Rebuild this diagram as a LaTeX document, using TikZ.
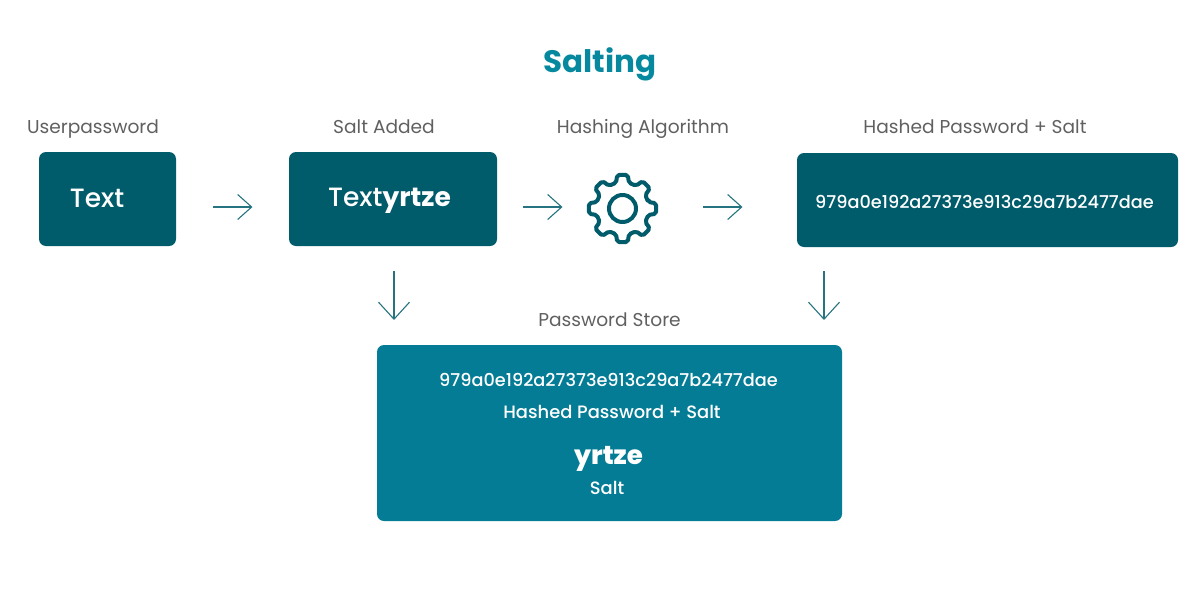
\documentclass[tikz,border=0pt]{standalone}
\usepackage{fontspec}
\setmainfont{Poppins}
\newfontfamily\mediumfont{Poppins Medium}
\newfontfamily\heavyfont{Poppins ExtraBold}
\usetikzlibrary{arrows.meta}
\definecolor{darkbox}{HTML}{005B6A}
\definecolor{storebox}{HTML}{047C95}
\definecolor{titleteal}{HTML}{06899E}
\definecolor{labelgray}{HTML}{606060}
\tikzset{
  box/.style={fill=darkbox,rounded corners=7pt,text=white,inner sep=0pt},
  storage/.style={fill=storebox,rounded corners=7pt,inner sep=0pt},
  caption/.style={text=labelgray,font=\fontsize{18.6pt}{20pt}\selectfont,inner sep=0pt},
  whitetext/.style={text=white,inner sep=0pt},
  hashfont/.style={font=\mediumfont\fontsize{17.7pt}{20pt}\selectfont},
  storefont/.style={font=\mediumfont\fontsize{17.9pt}{20pt}\selectfont},
  flow/.style={draw=darkbox!85,line width=1.1pt,-{Straight Barb[length=14pt,width=25pt,line width=1.1pt]}},
  downflow/.style={draw=darkbox!85,line width=1.1pt,-{Straight Barb[length=17pt,width=31pt,line width=1.1pt]}},
  gearline/.style={draw=darkbox,line width=4pt,line join=round}
}
\begin{document}
\begin{tikzpicture}[x=1pt,y=-1pt,font=\fontsize{12pt}{14pt}\selectfont]
    \useasboundingbox (0,0) rectangle (1200,600);

    \node[text=titleteal,inner sep=0pt,font=\fontsize{31pt}{34pt}\selectfont\bfseries] (title) at (600,64) {Salting};

    % captions
    \node[caption] (userlabel) at (93,129) {Userpassword};
    \node[caption] (saltlabel) at (384,127) {Salt Added};
    \node[caption] (hashlabel) at (643,129) {Hashing Algorithm};
    \node[caption] (hashedlabel) at (975,127) {Hashed Password + Salt};
    \node[caption] (storelabel) at (609.5,320) {Password Store};

    % boxes
    \node[box,minimum width=137pt,minimum height=94pt] (textbox) at (107.5,199) {};
    \node[box,minimum width=208pt,minimum height=94pt] (saltbox) at (393,199) {};
    \node[box,minimum width=381pt,minimum height=94pt] (hashbox) at (987.5,200) {};
    \node[storage,minimum width=465pt,minimum height=176pt] (storebox) at (609.5,433) {};

    \node[whitetext,font=\mediumfont\fontsize{26.5pt}{30pt}\selectfont] (plaintext) at (97,198) {Text};
    \node[whitetext,font=\mediumfont\fontsize{26.5pt}{30pt}\selectfont] (salttext) at (389.5,201) {Text{\fontspec{Poppins}\bfseries yrtze}};
    \node[whitetext,hashfont] (hashtext) at (984.5,202) {979a0e192a27373e913c29a7b2477dae};
    \node[whitetext,hashfont] (storehash) at (608.5,380) {979a0e192a27373e913c29a7b2477dae};
    \node[whitetext,storefont] (storehashed) at (612,412) {Hashed Password + Salt};
    \node[whitetext,font=\heavyfont\fontsize{26pt}{30pt}\selectfont] (storesalt) at (608.5,459) {yrtze};
    \node[whitetext,storefont] (storesaltname) at (607,488) {Salt};

    % gear
    \begin{scope}[shift={(622.5,208.5)}]
      \draw[gearline,rounded corners=2pt] (-14:26.5)
        \foreach \a in {0,45,...,315} {
          -- (\a-14:26.5) -- (\a-9:34) -- (\a+9:34) -- (\a+14:26.5)
        } -- cycle;
      \draw[gearline] (0,0) circle (13.5pt);
    \end{scope}

    % arrows
    \coordinate (a1s) at (213,207);
    \coordinate (a1e) at (252.5,207);
    \coordinate (a2s) at (523,207);
    \coordinate (a2e) at (562.5,207);
    \coordinate (a3s) at (703,207);
    \coordinate (a3e) at (742.5,207);
    \coordinate (d1s) at (394,271);
    \coordinate (d1e) at (394,320);
    \coordinate (d2s) at (824,271);
    \coordinate (d2e) at (824,320);
    \draw[flow] (a1s) -- (a1e);
    \draw[flow] (a2s) -- (a2e);
    \draw[flow] (a3s) -- (a3e);
    \draw[downflow] (d1s) -- (d1e);
    \draw[downflow] (d2s) -- (d2e);
\end{tikzpicture}
\end{document}
